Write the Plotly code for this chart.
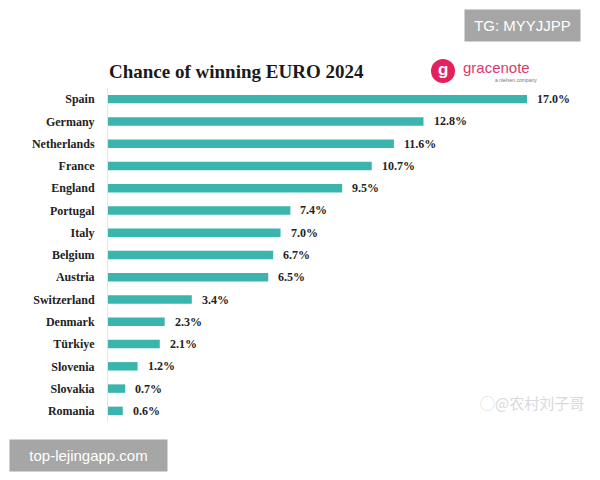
import plotly.graph_objects as go

countries = ["Spain", "Germany", "Netherlands", "France", "England", "Portugal", "Italy",
             "Belgium", "Austria", "Switzerland", "Denmark", "Türkiye", "Slovenia", "Slovakia", "Romania"]
chances = [17.0, 12.8, 11.6, 10.7, 9.5, 7.4, 7.0, 6.7, 6.5, 3.4, 2.3, 2.1, 1.2, 0.7, 0.6]
value_labels = [f"{v:.1f}%" for v in chances]

BAR = "#3ab5ad"
SERIF = "Liberation Serif"

fig = go.Figure()
fig.add_trace(go.Bar(
    x=chances, y=countries, orientation="h",
    marker=dict(color=BAR, line=dict(width=0)),
    width=0.38, hoverinfo="skip",
))

for c, v, lab in zip(countries, chances, value_labels):
    fig.add_annotation(x=v, y=c, xref="x", yref="y", text=f"<b>{lab}</b>",
                       showarrow=False, xanchor="left", xshift=8,
                       font=dict(family=SERIF, size=12, color="#222"))

# Title
fig.add_annotation(x=108, y=71, xref="paper", yref="paper", text="<b>Chance of winning EURO 2024</b>",
                   showarrow=False)
fig.layout.annotations = fig.layout.annotations[:-1]

W, H = 600, 480
def px(x, y):
    return dict(xref="paper", yref="paper", x=(x - 108) / 456, y=(422 - y) / 334)

fig.add_annotation(**px(107, 71), text="<b>Chance of winning EURO 2024</b>", showarrow=False,
                   xanchor="left", yanchor="middle",
                   font=dict(family=SERIF, size=19, color="#1a1a1a"))

# gracenote logo
cx, cy, r = 443, 71, 12
fig.add_shape(type="circle", xref="paper", yref="paper",
              x0=(cx - r - 108) / 456, x1=(cx + r - 108) / 456,
              y0=(422 - cy - r) / 334, y1=(422 - cy + r) / 334,
              fillcolor="#e2215d", line=dict(width=0))
fig.add_annotation(**px(cx, cy - 1), text="<b>g</b>", showarrow=False, xanchor="center", yanchor="middle",
                   font=dict(family="Arial", size=17, color="white"))
fig.add_annotation(**px(461, 68), text="gracenote", showarrow=False, xanchor="left", yanchor="middle",
                   font=dict(family="Liberation Sans", size=15, color="#d83a6a"))
fig.add_annotation(**px(493, 80), text="a nielsen company", showarrow=False, xanchor="left", yanchor="middle",
                   font=dict(family="Liberation Sans", size=5, color="#777"))

# watermarks
fig.add_annotation(**px(522, 25), text="TG: MYYJJPP", showarrow=False, xanchor="center", yanchor="middle",
                   bgcolor="#a6a6a6", borderpad=7, width=101,
                   font=dict(family="Liberation Sans", size=15, color="white"))
fig.add_annotation(**px(88, 455), text="top-lejingapp.com", showarrow=False, xanchor="center", yanchor="middle",
                   bgcolor="#a6a6a6", borderpad=7, width=143,
                   font=dict(family="Liberation Sans", size=15, color="white"))
fig.add_annotation(**px(532, 402), text="&#9711;@农村刘子哥", showarrow=False, xanchor="center", yanchor="middle",
                   font=dict(family="Noto Sans CJK SC", size=15, color="#d9d9d9"))

fig.update_layout(
    width=W, height=H,
    margin=dict(l=108, r=36, t=88, b=58),
    paper_bgcolor="white", plot_bgcolor="white",
    showlegend=False, bargap=0.6,
    xaxis=dict(range=[0, 18.5], visible=False, fixedrange=True),
    yaxis=dict(categoryorder="array", categoryarray=countries, autorange="reversed",
               showline=True, linecolor="#e6e6e6", linewidth=1, showgrid=False,
               ticks="", ticklabelstandoff=10,
               tickfont=dict(family=SERIF, size=12, color="#222"),
               tickprefix="<b>", ticksuffix="</b>", fixedrange=True),
)

fig.write_html("out.html")
